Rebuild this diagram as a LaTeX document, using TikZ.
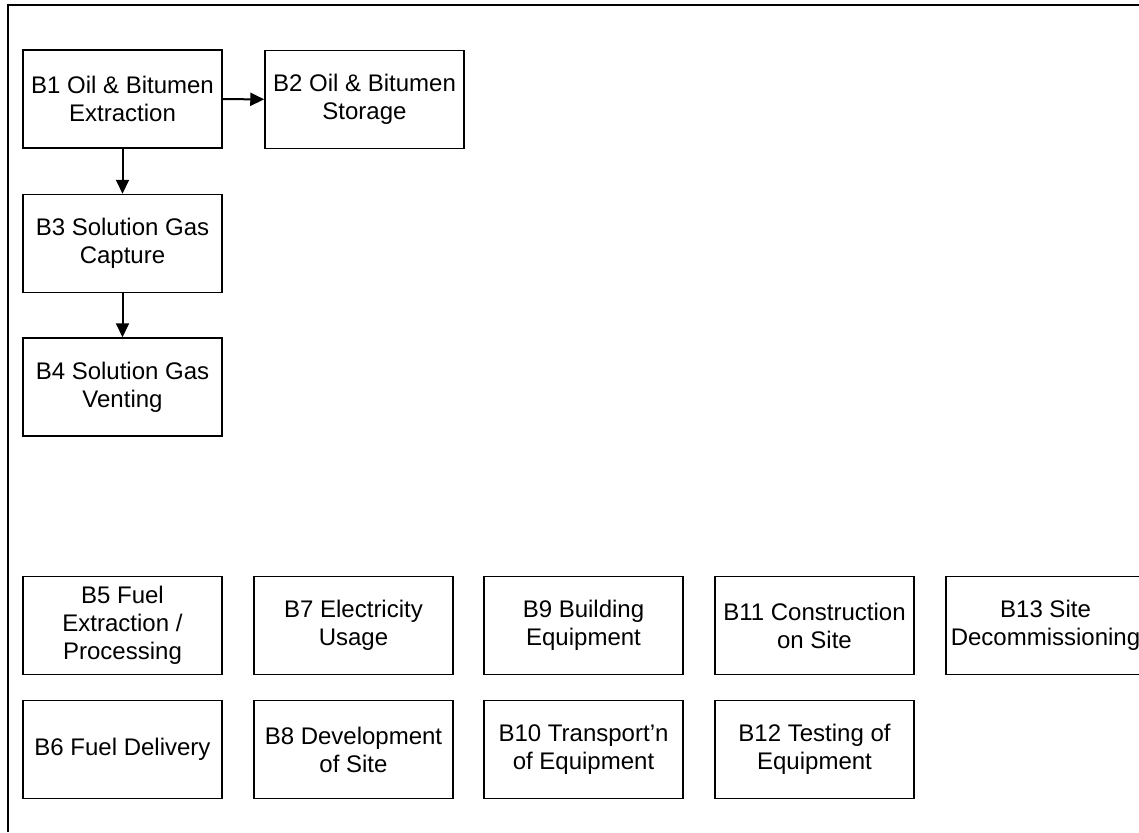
\documentclass[tikz,border=0pt]{standalone}
\usepackage{fontspec}
\setmainfont{Liberation Sans}
\usetikzlibrary{arrows.meta, positioning}

\tikzset{
  blk/.style={draw, line width=1.5pt, minimum width=199pt, minimum height=98pt,
              inner sep=0pt, align=center, font=\fontsize{24}{28}\selectfont},
  flow/.style={-{Triangle[length=14pt, width=13pt]}, line width=2pt}
}

\begin{document}
\begin{tikzpicture}[x=1pt, y=-1pt]
  \useasboundingbox (0,0) rectangle (1139,832);

  % outer frame (only top and left edges show)
  \draw[line width=2pt] (8,832) -- (8,5) -- (1139,5);

  % oil & bitumen chain
  \node[blk] (b1) at (122.5, 99)   {B1 Oil \& Bitumen\\Extraction};
  \node[blk] (b2) at (364.5, 99.5) {B2 Oil \& Bitumen\\Storage};
  \node[blk] (b3) at (122.5, 243.5) {B3 Solution Gas\\Capture};
  \node[blk] (b4) at (122.5, 387)   {B4 Solution Gas\\Venting};

  \draw[flow] (b1) -- (b2);
  \draw[flow] (b1) -- (b3);
  \draw[flow] (b3) -- (b4);

  % other sources, upper row
  \node[blk] (b5)  at (122.5, 625.5)  {B5 Fuel\\Extraction /\\Processing};
  \node[blk] (b7)  at (353.5, 625.5)  {B7 Electricity\\Usage};
  \node[blk] (b9)  at (583.5, 625.5)  {B9 Building\\Equipment};
  \node[blk] (b11) at (814.5, 625.5)  {B11 Construction\\on Site};
  \node[blk] (b13) at (1045.5, 625.5) {B13 Site\\Decommissioning};

  % other sources, lower row
  \node[blk] (b6)  at (122.5, 749.5) {B6 Fuel Delivery};
  \node[blk] (b8)  at (353.5, 749.5) {B8 Development\\of Site};
  \node[blk] (b10) at (583.5, 749.5) {B10 Transport'n\\of Equipment};
  \node[blk] (b12) at (814.5, 749.5) {B12 Testing of\\Equipment};
\end{tikzpicture}
\end{document}
